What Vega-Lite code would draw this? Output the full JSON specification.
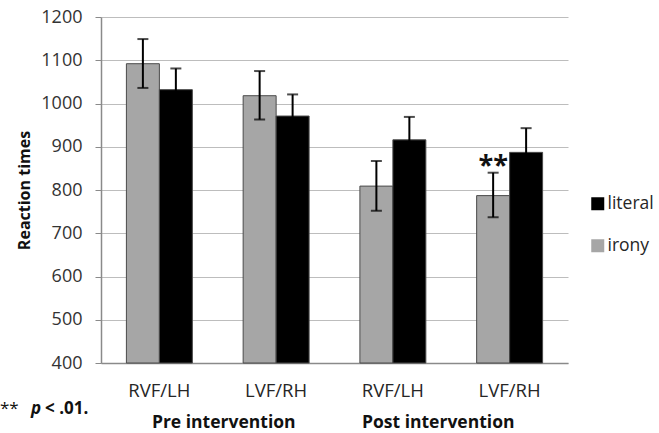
{
  "$schema": "https://vega.github.io/schema/vega-lite/v6.json",
  "autosize": {"type": "none"},
  "padding": {"left": 101, "top": 17, "right": 91, "bottom": 70},
  "width": 467,
  "height": 346,
  "background": "white",
  "config": {
    "font": "Open Sans",
    "view": {"stroke": null}
  },
  "datasets": {
    "rt": [
      {"cond": "Pre|RVF/LH", "type": "irony", "rt": 1092, "lo": 1036, "hi": 1149},
      {"cond": "Pre|RVF/LH", "type": "literal", "rt": 1032, "lo": 982, "hi": 1081},
      {"cond": "Pre|LVF/RH", "type": "irony", "rt": 1018, "lo": 963, "hi": 1075},
      {"cond": "Pre|LVF/RH", "type": "literal", "rt": 971, "lo": 921, "hi": 1021},
      {"cond": "Post|RVF/LH", "type": "irony", "rt": 809, "lo": 752, "hi": 867},
      {"cond": "Post|RVF/LH", "type": "literal", "rt": 916, "lo": 864, "hi": 969},
      {"cond": "Post|LVF/RH", "type": "irony", "rt": 787, "lo": 737, "hi": 840},
      {"cond": "Post|LVF/RH", "type": "literal", "rt": 887, "lo": 831, "hi": 943}
    ]
  },
  "data": {"name": "rt"},
  "encoding": {
    "x": {
      "field": "cond", "type": "nominal",
      "scale": {"domain": ["Pre|RVF/LH", "Pre|LVF/RH", "Post|RVF/LH", "Post|LVF/RH"], "paddingInner": 0, "paddingOuter": 0},
      "axis": {
        "title": null, "labelAngle": 0, "ticks": false,
        "labelExpr": "split(datum.value, '|')[1]",
        "labelFontSize": 18.5, "labelColor": "#262626", "labelPadding": 18,
        "domainColor": "#8a8a8a", "domainWidth": 1.5
      }
    }
  },
  "layer": [
    {
      "mark": {"type": "bar", "stroke": "#4a4a4a", "strokeWidth": 1},
      "encoding": {
        "xOffset": {"field": "type", "type": "nominal", "scale": {"domain": ["irony", "literal"], "paddingInner": 0, "paddingOuter": 0.77}},
        "y": {
          "field": "rt", "type": "quantitative",
          "scale": {"domain": [400, 1200], "nice": false, "zero": false},
          "axis": {
            "title": "Reaction times", "titleFontSize": 16, "titleFontWeight": "bold", "titleColor": "#111111", "titlePadding": 8,
            "values": [400, 500, 600, 700, 800, 900, 1000, 1100, 1200], "format": "d",
            "labelFontSize": 18, "labelColor": "#333333", "labelPadding": 13,
            "tickSize": 6, "tickColor": "#8a8a8a", "domainColor": "#8a8a8a", "domainWidth": 1.5,
            "grid": true, "gridColor": "#bdbdbd", "gridWidth": 1.2
          }
        },
        "y2": {"datum": 400},
        "color": {
          "field": "type", "type": "nominal",
          "scale": {"domain": ["literal", "irony"], "range": ["#000000", "#a6a6a6"]},
          "legend": {
            "title": null, "orient": "none", "legendX": 488, "legendY": 178,
            "symbolType": "square", "symbolSize": 169, "symbolStrokeWidth": 0,
            "labelFontSize": 17.5, "labelColor": "#262626", "labelOffset": 1, "rowPadding": 23
          }
        }
      }
    },
    {
      "mark": {"type": "rule", "color": "#000000", "strokeWidth": 2},
      "encoding": {
        "xOffset": {"field": "type", "type": "nominal"},
        "y": {"field": "lo", "type": "quantitative"},
        "y2": {"field": "hi"}
      }
    },
    {
      "mark": {"type": "tick", "color": "#000000", "thickness": 2, "size": 11},
      "encoding": {
        "xOffset": {"field": "type", "type": "nominal"},
        "y": {"field": "lo", "type": "quantitative"}
      }
    },
    {
      "mark": {"type": "tick", "color": "#000000", "thickness": 2, "size": 11},
      "encoding": {
        "xOffset": {"field": "type", "type": "nominal"},
        "y": {"field": "hi", "type": "quantitative"}
      }
    },
    {
      "data": {"values": [{"cond": "Post|LVF/RH", "type": "irony", "label": "**"}]},
      "mark": {"type": "text", "fontSize": 27, "fontWeight": "bold", "baseline": "alphabetic", "align": "center", "color": "#111111"},
      "encoding": {
        "xOffset": {"field": "type", "type": "nominal"},
        "y": {"datum": 838, "type": "quantitative"},
        "text": {"field": "label"}
      }
    },
    {
      "data": {"values": [{"cond": "Pre|RVF/LH", "label": "Pre intervention"}]},
      "mark": {"type": "text", "fontSize": 17.5, "fontWeight": "bold", "baseline": "alphabetic", "align": "center", "color": "#111111", "dx": 6},
      "encoding": {
        "x": {"field": "cond", "type": "nominal", "bandPosition": 1},
        "y": {"datum": 250, "type": "quantitative"},
        "text": {"field": "label"}
      }
    },
    {
      "data": {"values": [{"cond": "Post|RVF/LH", "label": "Post intervention"}]},
      "mark": {"type": "text", "fontSize": 17.5, "fontWeight": "bold", "baseline": "alphabetic", "align": "center", "color": "#111111", "dx": -13},
      "encoding": {
        "x": {"field": "cond", "type": "nominal", "bandPosition": 1},
        "y": {"datum": 250, "type": "quantitative"},
        "text": {"field": "label"}
      }
    },
    {
      "data": {"values": [{"cond": "Pre|RVF/LH", "label": "**"}]},
      "mark": {"type": "text", "fontSize": 17, "baseline": "alphabetic", "align": "left", "color": "#111111", "dx": -101},
      "encoding": {
        "x": {"field": "cond", "type": "nominal", "bandPosition": 0},
        "y": {"datum": 282, "type": "quantitative"},
        "text": {"field": "label"}
      }
    },
    {
      "data": {"values": [{"cond": "Pre|RVF/LH", "label": "p"}]},
      "mark": {"type": "text", "fontSize": 17, "fontWeight": "bold", "fontStyle": "italic", "baseline": "alphabetic", "align": "left", "color": "#111111", "dx": -70},
      "encoding": {
        "x": {"field": "cond", "type": "nominal", "bandPosition": 0},
        "y": {"datum": 282, "type": "quantitative"},
        "text": {"field": "label"}
      }
    },
    {
      "data": {"values": [{"cond": "Pre|RVF/LH", "label": "< .01."}]},
      "mark": {"type": "text", "fontSize": 17, "fontWeight": "bold", "baseline": "alphabetic", "align": "left", "color": "#111111", "dx": -56},
      "encoding": {
        "x": {"field": "cond", "type": "nominal", "bandPosition": 0},
        "y": {"datum": 282, "type": "quantitative"},
        "text": {"field": "label"}
      }
    }
  ]
}
